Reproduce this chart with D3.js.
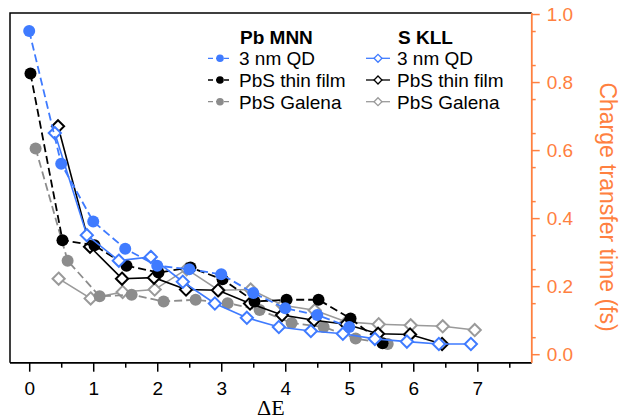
<!DOCTYPE html>
<html lang="en">
<head>
<meta charset="utf-8">
<title>Charge transfer time</title>
<script src="https://cdn.jsdelivr.net/npm/d3@7"></script>
<style>
  body { margin: 0; background: #fff; }
  svg text { font-family: "Liberation Sans", Arial, sans-serif; }
</style>
</head>
<body>
<script>
// Pb MNN (filled circles, dashed lines)
var pbQdX = [0, 0.5, 1, 1.5, 2, 2.5, 3, 3.5, 4, 4.5, 5];
var pbQdY = [0.95, 0.56, 0.39, 0.31, 0.26, 0.25, 0.235, 0.18, 0.135, 0.115, 0.08];
var pbFilmX = [0.02, 0.52, 1.02, 1.52, 2.02, 2.52, 3.02, 3.52, 4.02, 4.52, 5.02, 5.52];
var pbFilmY = [0.825, 0.335, 0.32, 0.26, 0.24, 0.255, 0.22, 0.155, 0.16, 0.16, 0.105, 0.032];
var pbGalX = [0.1, 0.6, 1.1, 1.6, 2.1, 2.6, 3.1, 3.6, 4.1, 4.6, 5.1, 5.6];
var pbGalY = [0.605, 0.275, 0.17, 0.175, 0.155, 0.16, 0.15, 0.13, 0.092, 0.08, 0.046, 0.03];

// S KLL (open diamonds, solid lines)
var sQdX = [0.4, 0.9, 1.4, 1.9, 2.4, 2.9, 3.4, 3.9, 4.4, 4.9, 5.4, 5.9, 6.4, 6.9];
var sQdY = [0.65, 0.35, 0.275, 0.286, 0.213, 0.149, 0.107, 0.08, 0.068, 0.06, 0.045, 0.037, 0.03, 0.03];
var sFilmX = [0.45, 0.95, 1.45, 1.95, 2.45, 2.95, 3.45, 3.95, 4.45, 4.95, 5.45, 5.95, 6.45];
var sFilmY = [0.67, 0.316, 0.222, 0.225, 0.19, 0.188, 0.149, 0.115, 0.1, 0.088, 0.06, 0.058, 0.03];
var sGalX = [0.46, 0.96, 1.46, 1.96, 2.46, 2.96, 3.46, 3.96, 4.46, 4.96, 5.46, 5.96, 6.46, 6.96];
var sGalY = [0.222, 0.164, 0.183, 0.19, 0.25, 0.188, 0.19, 0.144, 0.129, 0.095, 0.088, 0.085, 0.082, 0.071];

var xTicks = [0, 1, 2, 3, 4, 5, 6, 7];
var yTicks = [0.0, 0.2, 0.4, 0.6, 0.8, 1.0];

var blue = "#3f7bff", black = "#000", gray = "#8c8c8c", lightGray = "#9a9a9a";
var orange = "#ff8040";

var w = 622, h = 420;
var pLeft = 10, pRight = 531.7, pTop = 13, pBottom = 362.7;

var svg = d3.select("body").append("svg")
  .attr("width", w).attr("height", h);

var x = d3.scaleLinear().domain([-0.3, 7.85]).range([pLeft, pRight]);
var y = d3.scaleLinear().domain([-0.025, 1.003]).range([pBottom, pTop]);

// frame: left and top
svg.append("path")
  .attr("d", "M" + pLeft + "," + pBottom + "V" + pTop + "H" + pRight)
  .attr("fill", "none").attr("stroke", "#000").attr("stroke-width", 1.5);

// bottom axis
var minorX = d3.range(0.5, 7.6, 1);
var gx = svg.append("g").attr("transform", "translate(0," + pBottom + ")");
gx.call(d3.axisBottom(x).tickValues(xTicks).tickFormat(d3.format("d")).tickSize(9).tickPadding(10));
gx.append("g").call(d3.axisBottom(x).tickValues(minorX).tickFormat("").tickSize(5));
gx.selectAll(".domain").attr("d", "M" + pLeft + ",0H" + pRight).attr("stroke-width", 1.5);
gx.selectAll(".tick line").attr("stroke-width", 1.5);
gx.selectAll(".tick text").attr("font-size", 19).attr("fill", "#000")
  .attr("font-family", "Liberation Sans, Arial, sans-serif");

// right axis
var minorY = d3.range(0.05, 1.0, 0.1);
var gy = svg.append("g").attr("transform", "translate(" + pRight + ",0)");
gy.call(d3.axisRight(y).tickValues(yTicks).tickFormat(d3.format(".1f")).tickSize(8).tickPadding(7));
gy.append("g").call(d3.axisRight(y).tickValues(minorY).tickFormat("").tickSize(4));
gy.selectAll(".domain").attr("d", "M0," + pTop + "V" + pBottom).attr("stroke", orange).attr("stroke-width", 1.5);
gy.selectAll(".tick line").attr("stroke", orange).attr("stroke-width", 1.5);
gy.selectAll(".tick text").attr("font-size", 19).attr("fill", orange)
  .attr("font-family", "Liberation Sans, Arial, sans-serif");

// axis titles
svg.append("text")
  .attr("x", (pLeft + pRight) / 2).attr("y", 415)
  .attr("text-anchor", "middle")
  .style("font-family", "Liberation Serif, serif")
  .attr("font-size", 22)
  .text("ΔE");

svg.append("text")
  .attr("transform", "translate(600,207) rotate(90)")
  .attr("text-anchor", "middle")
  .attr("font-size", 23)
  .attr("fill", orange)
  .text("Charge transfer time (fs)");

var line = d3.line().x(function(d) { return x(d[0]); }).y(function(d) { return y(d[1]); });
var diamond = d3.symbol().type(d3.symbolDiamond2);

function zip(xs, ys) {
  return xs.map(function(v, i) { return [v, ys[i]]; });
}

var plot = svg.append("g");

function drawS(xs, ys, color) {
  var pts = zip(xs, ys);
  plot.append("path").attr("d", line(pts))
    .attr("fill", "none").attr("stroke", color).attr("stroke-width", 1.6);
  plot.selectAll(null).data(pts).enter().append("path")
    .attr("d", diamond.size(95)())
    .attr("transform", function(d) { return "translate(" + x(d[0]) + "," + y(d[1]) + ")"; })
    .attr("fill", "#fff").attr("stroke", color).attr("stroke-width", 2);
}

function drawPb(xs, ys, color) {
  var pts = zip(xs, ys);
  plot.append("path").attr("d", line(pts))
    .attr("fill", "none").attr("stroke", color).attr("stroke-width", 1.8)
    .attr("stroke-dasharray", "8,4");
  plot.selectAll(null).data(pts).enter().append("circle")
    .attr("cx", function(d) { return x(d[0]); })
    .attr("cy", function(d) { return y(d[1]); })
    .attr("r", 6).attr("fill", color);
}

drawS(sGalX, sGalY, lightGray);
drawPb(pbGalX, pbGalY, gray);
drawS(sFilmX, sFilmY, black);
drawPb(pbFilmX, pbFilmY, black);
drawS(sQdX, sQdY, blue);
drawPb(pbQdX, pbQdY, blue);

// legend
var names = ["3 nm QD", "PbS thin film", "PbS Galena"];
var pbColors = [blue, black, gray];
var sColors = [blue, black, lightGray];
var rowY = [58.3, 80, 101.7];

function legend(x0, title, colors, dashed) {
  var g = svg.append("g");
  g.append("text").attr("x", x0 + 32).attr("y", 44)
    .attr("font-size", 19).attr("font-weight", "bold").text(title);
  names.forEach(function(n, i) {
    var yy = rowY[i];
    g.append("line").attr("x1", x0).attr("x2", x0 + 24).attr("y1", yy).attr("y2", yy)
      .attr("stroke", colors[i]).attr("stroke-width", 1.3)
      .attr("stroke-dasharray", dashed ? "5,3" : null);
    if (dashed) {
      g.append("circle").attr("cx", x0 + 12).attr("cy", yy).attr("r", 3.8).attr("fill", colors[i]);
    } else {
      g.append("path").attr("d", diamond.size(40)())
        .attr("transform", "translate(" + (x0 + 12) + "," + yy + ")")
        .attr("fill", "#fff").attr("stroke", colors[i]).attr("stroke-width", 1.3);
    }
    g.append("text").attr("x", x0 + 31).attr("y", yy + 7)
      .attr("font-size", 19).text(n);
  });
}

legend(208, "Pb MNN", pbColors, true);
legend(366, "S KLL", sColors, false);
</script>
</body>
</html>
